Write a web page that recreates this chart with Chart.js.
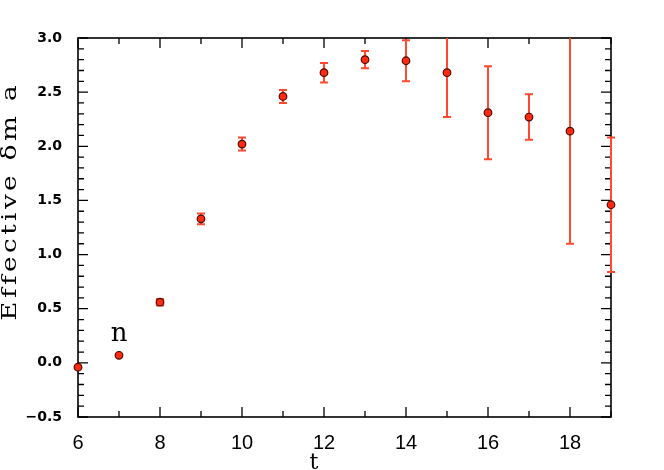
<!DOCTYPE html>
<html><head><meta charset="utf-8">
<script src="https://cdn.jsdelivr.net/npm/chart.js@4.4.1/dist/chart.umd.min.js"></script>
<style>html,body{margin:0;padding:0;background:#fff}#wrap{width:664px;height:470px}</style>
</head><body><div id="wrap"><canvas id="c" width="664" height="470"></canvas></div>
<script>
const tValues = [6, 7, 8, 9, 10, 11, 12, 13, 14, 15, 16, 17, 18, 19];
const effMass = [-0.04, 0.07, 0.56, 1.33, 2.02, 2.46, 2.68, 2.80, 2.79, 2.68, 2.31, 2.27, 2.14, 1.46];
const errors  = [0.01, 0.01, 0.03, 0.05, 0.06, 0.06, 0.09, 0.08, 0.19, 0.41, 0.43, 0.21, 1.04, 0.62];
const xTicks = [6, 8, 10, 12, 14, 16, 18];
const yTicks = [-0.5, 0.0, 0.5, 1.0, 1.5, 2.0, 2.5, 3.0];
const xLabel = 't';
const yLabel = 'Effective δm a';
const annotation = 'n';

const pts = tValues.map((t, i) => ({x: t, y: effMass[i]}));

const frame = {
  id: 'frame',
  beforeDatasetsDraw(chart) {
    const {ctx, chartArea: a, scales: {x, y}} = chart;
    ctx.save();
    ctx.strokeStyle = '#000';
    ctx.lineWidth = 1.6;
    ctx.strokeRect(a.left, a.top, a.right - a.left, a.bottom - a.top);
    ctx.lineWidth = 1.3;
    ctx.beginPath();
    for (let v = 6; v <= 19.001; v += 1) {
      const px = x.getPixelForValue(v);
      const len = (Math.round(v) % 2 === 0) ? 10 : 6;
      ctx.moveTo(px, a.bottom); ctx.lineTo(px, a.bottom - len);
      ctx.moveTo(px, a.top); ctx.lineTo(px, a.top + len);
    }
    for (let k = -5; k <= 30; k++) {
      const py = y.getPixelForValue(k / 10);
      const len = (k % 5 === 0) ? 10 : 6;
      ctx.moveTo(a.left, py); ctx.lineTo(a.left + len, py);
      ctx.moveTo(a.right, py); ctx.lineTo(a.right - len, py);
    }
    ctx.stroke();
    // error bars
    ctx.save();
    ctx.beginPath();
    ctx.rect(a.left - 10, a.top, a.right - a.left + 20, a.bottom - a.top);
    ctx.clip();
    ctx.strokeStyle = '#ff4a30';
    ctx.lineWidth = 2;
    ctx.beginPath();
    tValues.forEach((t, i) => {
      const px = x.getPixelForValue(t);
      const hi = y.getPixelForValue(effMass[i] + errors[i]);
      const lo = y.getPixelForValue(effMass[i] - errors[i]);
      ctx.moveTo(px, hi); ctx.lineTo(px, lo);
      ctx.moveTo(px - 4, hi); ctx.lineTo(px + 4, hi);
      ctx.moveTo(px - 4, lo); ctx.lineTo(px + 4, lo);
    });
    ctx.stroke();
    ctx.restore();
    // texts
    ctx.fillStyle = '#000';
    ctx.font = '22px "DejaVu Serif"';
    ctx.textAlign = 'center';
    ctx.textBaseline = 'alphabetic';
    ctx.fillText(xLabel, 314, 469);
    ctx.font = '26px "DejaVu Serif"';
    ctx.fillText(annotation, x.getPixelForValue(7), 341);
    ctx.save();
    ctx.translate(16, 203);
    ctx.rotate(-Math.PI / 2);
    ctx.font = '21px "DejaVu Serif"';
    const w0 = ctx.measureText(yLabel).width;
    const n = [...yLabel].length;
    const sx = Math.min(1.25, 238 / w0);
    const ls = Math.max(0, (238 / sx - w0) / n);
    ctx.scale(sx, 1);
    ctx.letterSpacing = ls.toFixed(2) + 'px';
    ctx.textBaseline = 'alphabetic';
    ctx.fillText(yLabel, ls / 2, 0);
    ctx.letterSpacing = '0px';
    ctx.restore();
    ctx.restore();
  }
};

new Chart(document.getElementById('c'), {
  type: 'scatter',
  data: {
    datasets: [
      {data: pts, pointStyle: 'circle', pointRadius: 3.8, pointBackgroundColor: '#ff2a10', pointBorderColor: '#4a0a00', pointBorderWidth: 1.2, clip: false},
      {data: pts, pointStyle: 'triangle', pointRadius: 2.3, pointBackgroundColor: '#000', pointBorderColor: '#000', pointBorderWidth: 0, clip: false}
    ]
  },
  options: {
    responsive: false,
    animation: false,
    events: [],
    layout: {padding: {left: 0, right: 53, top: 38, bottom: 0}},
    plugins: {legend: {display: false}, tooltip: {enabled: false}},
    scales: {
      x: {
        type: 'linear', min: 6, max: 19,
        afterFit(s) { s.height = 53; },
        afterBuildTicks(s) { s.ticks = xTicks.map(v => ({value: v})); },
        grid: {display: false, drawTicks: false},
        border: {display: false},
        ticks: {color: '#000', padding: 14, font: {family: 'Liberation Sans', size: 20}, maxRotation: 0}
      },
      y: {
        type: 'linear', min: -0.5, max: 3.0,
        afterFit(s) { s.width = 78; },
        afterBuildTicks(s) { s.ticks = yTicks.map(v => ({value: v})); },
        grid: {display: false, drawTicks: false},
        border: {display: false},
        ticks: {color: '#000', padding: 16, font: {family: 'DejaVu Sans', size: 14, weight: 'bold'}, callback: v => v.toFixed(1).replace('-', '\u2212')}
      }
    }
  },
  plugins: [frame]
});
</script></body></html>
